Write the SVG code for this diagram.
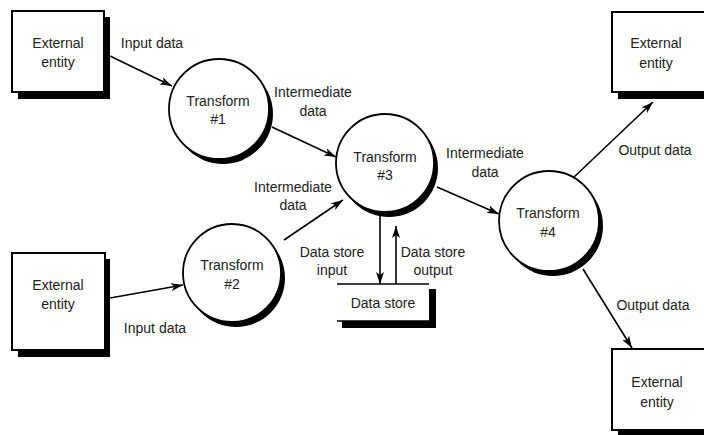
<svg xmlns="http://www.w3.org/2000/svg" width="704" height="435" viewBox="0 0 704 435">
  <defs>
    <marker id="arrow" viewBox="0 0 12 8" refX="12" refY="4" markerWidth="12" markerHeight="8" markerUnits="userSpaceOnUse" orient="auto">
      <path d="M0,0 L12,4 L0,8 L3,4 Z" fill="#000"/>
    </marker>
  </defs>
  <style>
    text { font-family: "Liberation Sans", Arial, sans-serif; font-size: 14px; fill: #222; text-anchor: middle; }
    .box { fill: #fff; stroke: #000; stroke-width: 2; }
    .shadow { fill: #000; }
    .proc { fill: #fff; stroke: #000; stroke-width: 1.8; }
    .flow { stroke: #000; stroke-width: 1.6; fill: none; marker-end: url(#arrow); }
    .thin { stroke: #000; stroke-width: 1.6; fill: none; }
  </style>
  <rect width="704" height="435" fill="#fff"/>

  <!-- external entities -->
  <g id="entity-in-top">
    <rect class="shadow" x="18" y="17" width="92" height="82"/>
    <rect class="box" x="12" y="11" width="92" height="81"/>
    <text x="58" y="48">External</text>
    <text x="58" y="67">entity</text>
  </g>
  <g id="entity-in-bottom">
    <rect class="shadow" x="18" y="259" width="92" height="98"/>
    <rect class="box" x="12" y="253" width="93" height="97"/>
    <text x="58" y="290">External</text>
    <text x="58" y="309">entity</text>
  </g>
  <g id="entity-out-top">
    <rect class="shadow" x="618" y="18" width="100" height="81"/>
    <rect class="box" x="612" y="12" width="100" height="80"/>
    <text x="656" y="48">External</text>
    <text x="656" y="68">entity</text>
  </g>
  <g id="entity-out-bottom">
    <rect class="shadow" x="618" y="355" width="100" height="85"/>
    <rect class="box" x="612" y="349" width="100" height="81"/>
    <text x="657" y="387">External</text>
    <text x="657" y="407">entity</text>
  </g>

  <!-- transforms -->
  <g id="transform-1">
    <circle class="shadow" cx="223" cy="114" r="50"/>
    <circle class="proc" cx="219" cy="109" r="50"/>
    <text x="218" y="106">Transform</text>
    <text x="218" y="124">#1</text>
  </g>
  <g id="transform-2">
    <circle class="shadow" cx="236" cy="278" r="49"/>
    <circle class="proc" cx="232" cy="273" r="49"/>
    <text x="232" y="270">Transform</text>
    <text x="232" y="289">#2</text>
  </g>
  <g id="transform-3">
    <circle class="shadow" cx="389" cy="168" r="49"/>
    <circle class="proc" cx="385" cy="163" r="49"/>
    <text x="385" y="162">Transform</text>
    <text x="385" y="180">#3</text>
  </g>
  <g id="transform-4">
    <circle class="shadow" cx="553" cy="226" r="50"/>
    <circle class="proc" cx="549" cy="221" r="50"/>
    <text x="548" y="218">Transform</text>
    <text x="548" y="237">#4</text>
  </g>

  <!-- data store -->
  <g id="data-store">
    <path class="shadow" d="M429,289 H436 V328 H342 V321 H429 Z"/>
    <line class="thin" x1="337" y1="284" x2="429" y2="284"/>
    <line class="thin" x1="337" y1="321" x2="429" y2="321"/>
    <text x="383" y="308">Data store</text>
  </g>

  <!-- data flows -->
  <g id="connectors">
    <line class="flow" x1="110" y1="56" x2="172" y2="86"/>
    <line class="flow" x1="272" y1="127" x2="336" y2="157"/>
    <line class="flow" x1="284" y1="240" x2="343" y2="200"/>
    <line class="flow" x1="110" y1="298" x2="183" y2="285"/>
    <line class="flow" x1="437" y1="187" x2="499" y2="214"/>
    <line class="flow" x1="573" y1="178" x2="653" y2="102"/>
    <line class="flow" x1="583" y1="269" x2="632" y2="348"/>
    <line class="flow" x1="380" y1="214" x2="380" y2="284"/>
    <line class="flow" x1="396" y1="284" x2="396" y2="226"/>
  </g>

  <!-- flow labels -->
  <g id="labels">
    <text x="152" y="48">Input data</text>
    <text x="313" y="97">Intermediate</text>
    <text x="313" y="116">data</text>
    <text x="293" y="192">Intermediate</text>
    <text x="293" y="210">data</text>
    <text x="155" y="333">Input data</text>
    <text x="332" y="257">Data store</text>
    <text x="332" y="275">input</text>
    <text x="433" y="257">Data store</text>
    <text x="433" y="275">output</text>
    <text x="485" y="158">Intermediate</text>
    <text x="485" y="177">data</text>
    <text x="655" y="155">Output data</text>
    <text x="653" y="310">Output data</text>
  </g>
</svg>
